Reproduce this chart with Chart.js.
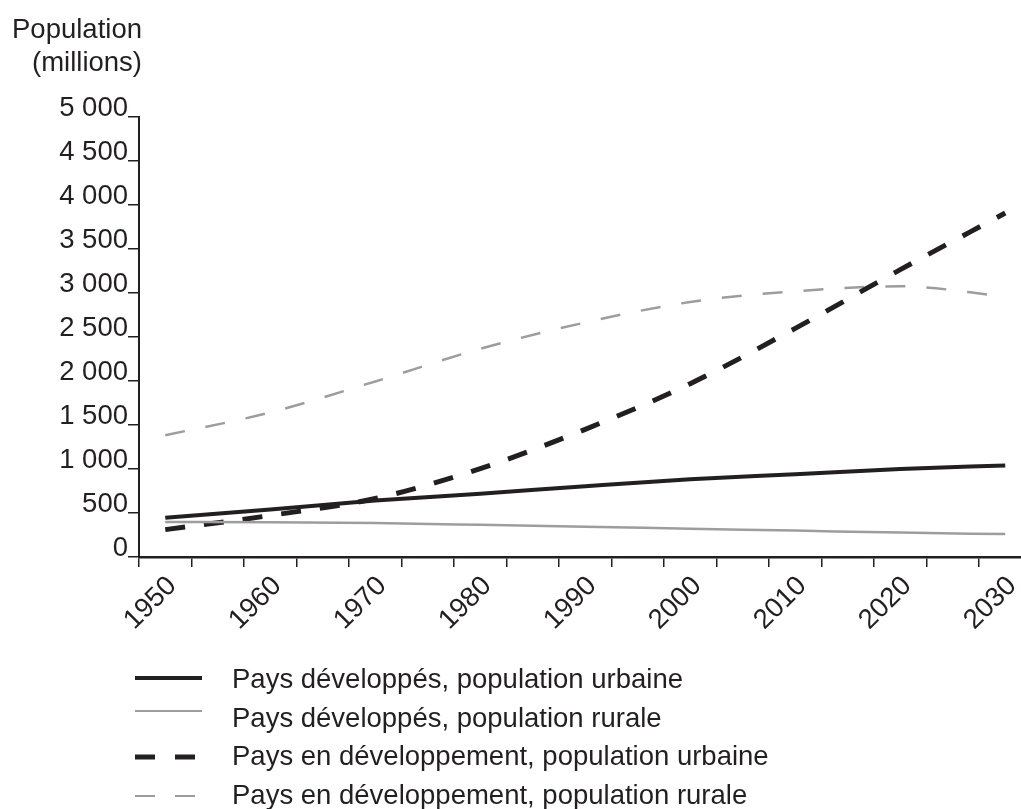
<!DOCTYPE html>
<html lang="fr">
<head>
<meta charset="UTF-8">
<title>Population urbaine et rurale, 1950-2030</title>
<script src="https://cdn.jsdelivr.net/npm/chart.js"></script>
<style>
body{margin:0;background:#fff;overflow:hidden;font-family:'Liberation Sans',Arial,sans-serif;color:#231f20;}
#wrap{position:relative;width:1021px;height:809px;}
#chart{position:absolute;left:0;top:0;}
svg{position:absolute;left:0;top:0;}
svg text{font-family:'Liberation Sans',Arial,sans-serif;font-size:27.5px;fill:#231f20;}
</style>
</head>
<body>
<div id="wrap">
<canvas id="chart" width="1021" height="640"></canvas>
<svg width="1021" height="809">
  <text x="142" y="38" text-anchor="end">Population</text>
  <text x="142" y="71" text-anchor="end">(millions)</text>

  <line x1="135" x2="202" y1="678" y2="678" stroke="#231f20" stroke-width="4"/>
  <text x="232" y="688">Pays développés, population urbaine</text>
  <line x1="135" x2="202" y1="711" y2="711" stroke="#9d9d9d" stroke-width="2"/>
  <text x="232" y="727">Pays développés, population rurale</text>
  <line x1="135" x2="196" y1="757" y2="757" stroke="#231f20" stroke-width="5" stroke-dasharray="20 20"/>
  <text x="232" y="765">Pays en développement, population urbaine</text>
  <line x1="135" x2="196" y1="796" y2="796" stroke="#9d9d9d" stroke-width="2" stroke-dasharray="20 20"/>
  <text x="232" y="804">Pays en développement, population rurale</text>
</svg>
</div>
<script>
// values, millions
const years = [1950, 1960, 1970, 1980, 1990, 2000, 2010, 2020, 2030];
const devUrban = [447, 540, 641, 720, 805, 883, 940, 1000, 1040];
const devRural = [398, 396, 385, 366, 345, 322, 300, 277, 260];
const dvgUrban = [311, 472, 665, 1004, 1451, 1970, 2598, 3265, 3909];
const dvgRural = [1383, 1643, 1995, 2366, 2665, 2898, 3020, 3076, 2960];

const tickYears = [1950,1955,1960,1965,1970,1975,1980,1985,1990,1995,2000,2005,2010,2015,2020,2025,2030];
const labelYears = [1950,1960,1970,1980,1990,2000,2010,2020,2030];
const yTicks = [0,500,1000,1500,2000,2500,3000,3500,4000,4500,5000];

const INK = '#231f20', GREY = '#9d9d9d';
const FONT = {family:"'Liberation Sans', Arial, sans-serif", size:27.5};

function pts(arr){return years.map((y,i)=>({x:y,y:arr[i]}));}
function fmt(v){return v>=1000 ? Math.floor(v/1000)+' '+String(v%1000).padStart(3,'0') : String(v);}

new Chart(document.getElementById('chart'), {
  type:'line',
  data:{datasets:[
    {label:'Pays développés, population urbaine', data:pts(devUrban), borderColor:INK, borderWidth:4},
    {label:'Pays développés, population rurale', data:pts(devRural), borderColor:GREY, borderWidth:2.5},
    {label:'Pays en développement, population urbaine', data:pts(dvgUrban), borderColor:INK, borderWidth:5, borderDash:[20,19]},
    {label:'Pays en développement, population rurale', data:pts(dvgRural), borderColor:GREY, borderWidth:2.5, borderDash:[20,21]}
  ]},
  options:{
    responsive:false, animation:false, devicePixelRatio:1,
    layout:{padding:{top:117,right:0,bottom:0,left:0}},
    elements:{point:{radius:0}, line:{cubicInterpolationMode:'monotone', fill:false, borderCapStyle:'butt'}},
    plugins:{legend:{display:false}, tooltip:{enabled:false}},
    scales:{
      x:{
        type:'linear', min:1947.5, max:2031.5,
        afterBuildTicks:s=>{s.ticks=tickYears.map(v=>({value:v}));},
        afterFit:s=>{s.height=83; s.paddingLeft=0; s.paddingRight=0;},
        ticks:{autoSkip:false, minRotation:45, maxRotation:45, padding:3, labelOffset:7, color:INK, font:FONT,
          callback:v=>labelYears.includes(v)?String(v):''},
        grid:{offset:true, drawOnChartArea:false, tickLength:10, color:INK, lineWidth:1.5},
        border:{color:INK, width:2.5}
      },
      y:{
        min:0, max:5000,
        afterBuildTicks:s=>{s.ticks=yTicks.map(v=>({value:v}));},
        afterFit:s=>{s.width=139; s.paddingTop=0; s.paddingBottom=0;},
        ticks:{padding:0, labelOffset:-9, color:INK, font:FONT, callback:v=>fmt(v)},
        grid:{drawOnChartArea:false, tickLength:11, color:INK, lineWidth:1.5},
        border:{color:INK, width:2}
      }
    }
  }
});
</script>
</body>
</html>
